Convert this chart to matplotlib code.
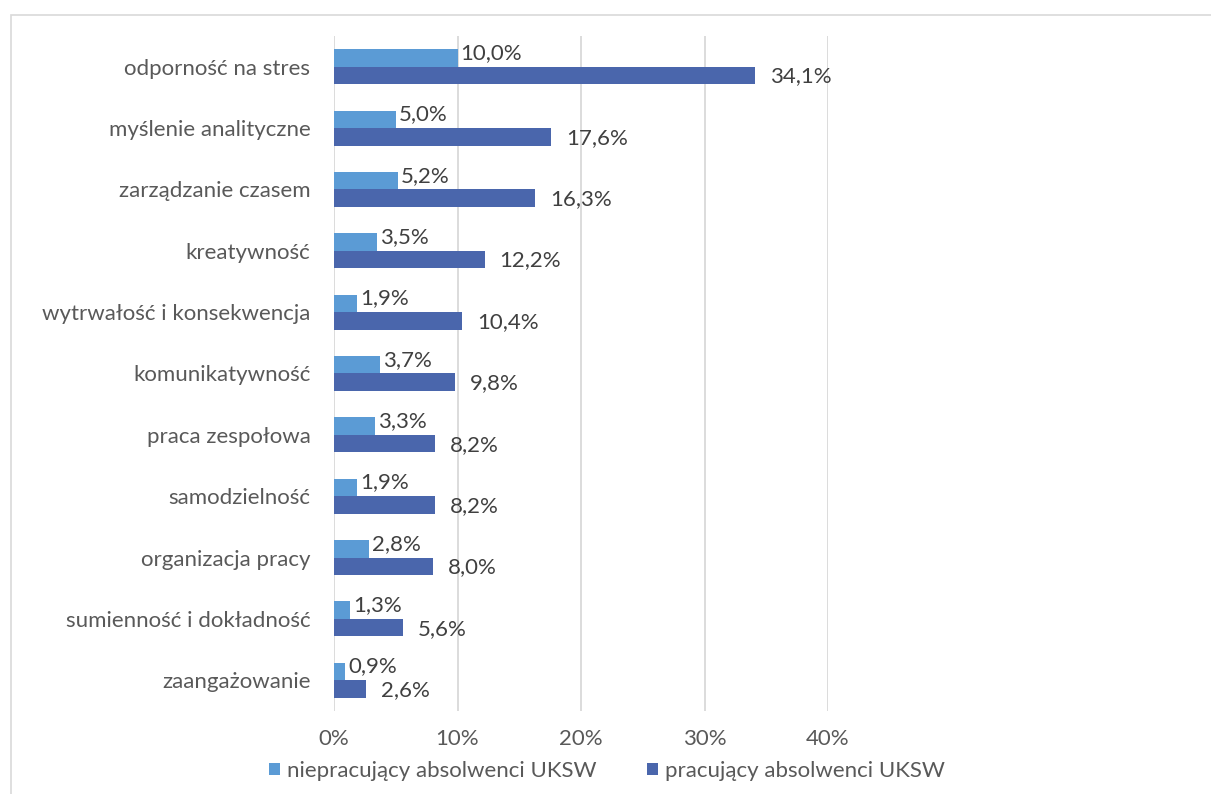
import matplotlib
matplotlib.use("Agg")
import matplotlib.pyplot as plt
from matplotlib.patches import Rectangle, Patch
import numpy as np

plt.rcParams['font.family'] = ['Lato', 'DejaVu Sans']

categories = [
    "odporność na stres",
    "myślenie analityczne",
    "zarządzanie czasem",
    "kreatywność",
    "wytrwałość i konsekwencja",
    "komunikatywność",
    "praca zespołowa",
    "samodzielność",
    "organizacja pracy",
    "sumienność i dokładność",
    "zaangażowanie",
]
niepracujacy = [10.0, 5.0, 5.2, 3.5, 1.9, 3.7, 3.3, 1.9, 2.8, 1.3, 0.9]
pracujacy = [34.1, 17.6, 16.3, 12.2, 10.4, 9.8, 8.2, 8.2, 8.0, 5.6, 2.6]
series_names = ["niepracujący absolwenci UKSW", "pracujący absolwenci UKSW"]
x_ticks = [0, 10, 20, 30, 40]

LIGHT = "#5B9BD5"
DARK = "#4A66AC"
TEXT = "#595959"
GRID = "#D9D9D9"
FS = 16

DPI = 100
fig = plt.figure(figsize=(12.11, 7.94), dpi=DPI)
W, H = 1211, 794
ax = fig.add_axes([334 / W, 1 - 711 / H, (828 - 334) / W, (711 - 36) / H])

# chart frame
fig.patches.append(Rectangle((11 / W, -0.1), 1.2, 1 - 15 / H + 0.1,
                             transform=fig.transFigure, fill=False,
                             edgecolor=GRID, linewidth=1.2))

y = np.arange(len(categories))
h = 0.285
ax.barh(y - h / 2, niepracujacy, height=h, color=LIGHT, zorder=3)
ax.barh(y + h / 2, pracujacy, height=h, color=DARK, zorder=3)

def fmt(v):
    return f"{v:.1f}".replace(".", ",") + "%"

px = 72 / DPI
for yi, v in zip(y, niepracujacy):
    ax.annotate(fmt(v), (v, yi - h / 2), xytext=(3 * px, 5 * px),
                textcoords="offset points", ha="left", va="center",
                fontsize=FS, color="#404040", zorder=4)
for yi, v in zip(y, pracujacy):
    ax.annotate(fmt(v), (v, yi + h / 2), xytext=(15 * px, -1 * px),
                textcoords="offset points", ha="left", va="center",
                fontsize=FS, color="#404040", zorder=4)

ax.set_xlim(0, 40)
ax.set_ylim(len(categories) - 0.5, -0.5)
ax.set_xticks(x_ticks)
ax.set_xticklabels([f"{t}%" for t in x_ticks])
ax.set_yticks(y)
ax.set_yticklabels(categories)
ax.tick_params(axis="both", length=0, labelsize=FS, labelcolor=TEXT)
ax.tick_params(axis="y", pad=17)
ax.tick_params(axis="x", pad=13)
ax.grid(axis="x", color=GRID, linewidth=1.3, zorder=0)
for s in ax.spines.values():
    s.set_visible(False)

handles = [Patch(facecolor=LIGHT), Patch(facecolor=DARK)]
fig.legend(handles, series_names, loc="center", bbox_to_anchor=(607 / W, 1 - 771 / H),
           ncol=2, frameon=False, fontsize=FS, labelcolor=TEXT,
           handlelength=0.5, handleheight=0.5, handletextpad=0.3,
           columnspacing=2.3)

fig.savefig("out.png", dpi=DPI, facecolor="white")
